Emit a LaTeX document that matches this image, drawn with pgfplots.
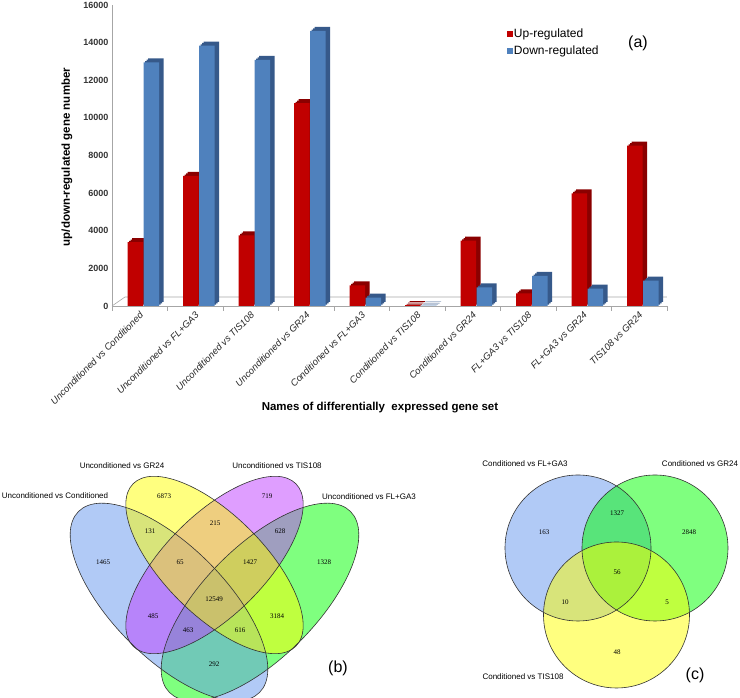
\documentclass[border=0pt]{standalone}
\usepackage{pgfplots}
\pgfplotsset{compat=1.18}
\usepackage{pgfplotstable}
\usepackage{fontspec}
\setmainfont{Liberation Sans}
\newfontfamily\serif{Liberation Serif}
\definecolor{upred}{HTML}{C00000}
\definecolor{upreddk}{HTML}{8A0000}
\definecolor{dnblue}{HTML}{4F81BD}
\definecolor{dnbluedk}{HTML}{36598A}
\definecolor{axgray}{HTML}{A6A6A6}
\definecolor{vblue}{RGB}{100,149,237}
\definecolor{vyellow}{RGB}{255,255,0}
\definecolor{vpurple}{RGB}{191,62,255}
\definecolor{vgreen}{RGB}{0,255,0}

\pgfplotstableread{
x up down
0 3390 12950
1 6910 13840
2 3760 13080
3 10780 14620
4 1100 450
5 40 20
6 3470 995
7 675 1595
8 5990 920
9 8520 1345
}\bardata

\pgfplotsset{
  depthbar/.style={ybar, bar width=15.5pt, draw=none, forget plot},
}

\begin{document}
\begin{tikzpicture}
\useasboundingbox (0pt,0pt) rectangle (740pt,698pt);
% ---------------- (a) bar chart ----------------
\begin{axis}[
  at={(112pt,392pt)}, anchor=south west,
  scale only axis, width=555pt, height=301pt,
  xmin=-0.5, xmax=9.5, ymin=0, ymax=16000,
  axis lines*=left,
  axis line style={axgray, line width=0.8pt},
  ytick={0,2000,...,16000},
  ytick style={draw=none},
  yticklabel style={font=\fontsize{9}{10}\selectfont\bfseries, text=black!80},
  /pgf/number format/assume math mode=true,
  /pgf/number format/1000 sep={},
  scaled y ticks=false,
  xtick={0,...,9},
  xticklabels={Unconditioned vs Conditioned, Unconditioned vs FL+GA3, Unconditioned vs TIS108, Unconditioned vs GR24, Conditioned vs FL+GA3, Conditioned vs TIS108, Conditioned vs GR24, FL+GA3 vs TIS108, FL+GA3 vs GR24, TIS108 vs GR24},
  xtick style={draw=none},
  xticklabel style={rotate=45, anchor=north east, font=\fontsize{9.5}{11}\selectfont\itshape, text=black!85, inner sep=1pt, xshift=-3pt, yshift=-2pt},
  extra x ticks={-0.5,0.5,...,9.5},
  extra x tick labels={},
  extra x tick style={xtick style={draw=axgray, line width=0.6pt}, major tick length=5pt, tick align=outside},
  legend style={at={(rel axis cs:0.712,0.925)}, anchor=north west, draw=none, fill=none,
    font=\fontsize{12}{13}\selectfont, row sep=5pt, inner sep=0pt, nodes={inner sep=1pt}},
  legend cell align=left,
]
\draw[axgray, line width=0.6pt] (rel axis cs:0,0) -- ++(13pt,9pt) -- ([xshift=13pt,yshift=9pt]rel axis cs:1,0) -- (rel axis cs:1,0);
% up-regulated: depth faces then front
\addplot[depthbar, bar shift=-4.25pt, fill=upreddk, xshift=4.5pt, yshift=4pt] table[x=x,y=up]{\bardata};
\addplot[depthbar, bar shift=-4.25pt, fill=upreddk, xshift=3pt, yshift=2.67pt] table[x=x,y=up]{\bardata};
\addplot[depthbar, bar shift=-4.25pt, fill=upreddk, xshift=1.5pt, yshift=1.33pt] table[x=x,y=up]{\bardata};
\addplot[ybar, bar width=15.5pt, bar shift=-4.25pt, fill=upred, draw=none,
  legend image code/.code={\fill[upred] (0pt,-2.8pt) rectangle (5.6pt,2.8pt);}] table[x=x,y=up]{\bardata};
\addlegendentry{Up-regulated}
% down-regulated: depth faces then front
\addplot[depthbar, bar shift=11.75pt, fill=dnbluedk, xshift=4.5pt, yshift=4pt] table[x=x,y=down]{\bardata};
\addplot[depthbar, bar shift=11.75pt, fill=dnbluedk, xshift=3pt, yshift=2.67pt] table[x=x,y=down]{\bardata};
\addplot[depthbar, bar shift=11.75pt, fill=dnbluedk, xshift=1.5pt, yshift=1.33pt] table[x=x,y=down]{\bardata};
\addplot[ybar, bar width=15.5pt, bar shift=11.75pt, fill=dnblue, draw=none,
  legend image code/.code={\fill[dnblue] (0pt,-2.8pt) rectangle (5.6pt,2.8pt);}] table[x=x,y=down]{\bardata};
\addlegendentry{Down-regulated}
\end{axis}
\node[rotate=90, font=\fontsize{11.5}{13}\selectfont\bfseries] at (67pt,541pt) {up/down-regulated gene number};
\node[font=\fontsize{11.5}{13}\selectfont\bfseries] at (380pt,290pt) {Names of differentially\ \ expressed gene set};
\node[font=\fontsize{16}{18}\selectfont] at (638pt,655pt) {(a)};

% ---------------- (b), (c) Venn diagrams ----------------
\begin{axis}[
  at={(0pt,0pt)}, anchor=south west,
  scale only axis, width=740pt, height=698pt,
  xmin=0, xmax=740, ymin=0, ymax=698, hide axis, clip=false,
]
% (b) fills: green, blue, purple, yellow
\fill[vgreen, fill opacity=0.5, rotate around={45:(axis cs:260,96)}] (axis cs:260,96) ellipse [x radius=128pt, y radius=56pt];
\fill[vblue, fill opacity=0.5, rotate around={-45:(axis cs:169,96)}] (axis cs:169,96) ellipse [x radius=128pt, y radius=56pt];
\fill[vpurple, fill opacity=0.5, rotate around={45:(axis cs:214.5,133)}] (axis cs:214.5,133) ellipse [x radius=115pt, y radius=50pt];
\fill[vyellow, fill opacity=0.5, rotate around={-45:(axis cs:214.5,133)}] (axis cs:214.5,133) ellipse [x radius=115pt, y radius=50pt];
\draw[black!80, line width=0.6pt, rotate around={45:(axis cs:260,96)}] (axis cs:260,96) ellipse [x radius=128pt, y radius=56pt];
\draw[black!80, line width=0.6pt, rotate around={-45:(axis cs:169,96)}] (axis cs:169,96) ellipse [x radius=128pt, y radius=56pt];
\draw[black!80, line width=0.6pt, rotate around={45:(axis cs:214.5,133)}] (axis cs:214.5,133) ellipse [x radius=115pt, y radius=50pt];
\draw[black!80, line width=0.6pt, rotate around={-45:(axis cs:214.5,133)}] (axis cs:214.5,133) ellipse [x radius=115pt, y radius=50pt];
\begin{scope}[every node/.style={font=\serif\fontsize{7}{8}\selectfont}]
\node at (axis cs:164,202) {6873};
\node at (axis cs:267,202) {719};
\node at (axis cs:150,167) {131};
\node at (axis cs:215,175) {215};
\node at (axis cs:280,167) {628};
\node at (axis cs:103,136) {1465};
\node at (axis cs:180,136) {65};
\node at (axis cs:250,136) {1427};
\node at (axis cs:324,136) {1328};
\node at (axis cs:214,99) {12549};
\node at (axis cs:153,82) {485};
\node at (axis cs:277,82) {3184};
\node at (axis cs:188,68) {463};
\node at (axis cs:240,68) {616};
\node at (axis cs:214,34) {292};
\end{scope}
\begin{scope}[every node/.style={font=\fontsize{8}{9}\selectfont}]
\node at (axis cs:55,202) {Unconditioned vs Conditioned};
\node at (axis cs:122,232) {Unconditioned vs GR24};
\node at (axis cs:277,232) {Unconditioned vs TIS108};
\node at (axis cs:369,201) {Unconditioned vs FL+GA3};
\node at (axis cs:525,234) {Conditioned vs FL+GA3};
\node at (axis cs:700,234) {Conditioned vs GR24};
\node at (axis cs:523,21) {Conditioned vs TIS108};
\end{scope}
\node[font=\fontsize{16}{18}\selectfont] at (axis cs:338,30) {(b)};
\node[font=\fontsize{16}{18}\selectfont] at (axis cs:695,23) {(c)};
% (c) fills: blue, green, yellow
\fill[vblue, fill opacity=0.5] (axis cs:578,150) circle [radius=73pt];
\fill[vgreen, fill opacity=0.5] (axis cs:655,150) circle [radius=73pt];
\fill[vyellow, fill opacity=0.5] (axis cs:616.5,83) circle [radius=73pt];
\draw[black!80, line width=0.6pt] (axis cs:578,150) circle [radius=73pt];
\draw[black!80, line width=0.6pt] (axis cs:655,150) circle [radius=73pt];
\draw[black!80, line width=0.6pt] (axis cs:616.5,83) circle [radius=73pt];
\begin{scope}[every node/.style={font=\serif\fontsize{7}{8}\selectfont}]
\node at (axis cs:544,166) {163};
\node at (axis cs:617,185) {1327};
\node at (axis cs:689,166) {2848};
\node at (axis cs:617,126) {56};
\node at (axis cs:565,96) {10};
\node at (axis cs:667,96) {5};
\node at (axis cs:617,46) {48};
\end{scope}
\end{axis}
\end{tikzpicture}
\end{document}
